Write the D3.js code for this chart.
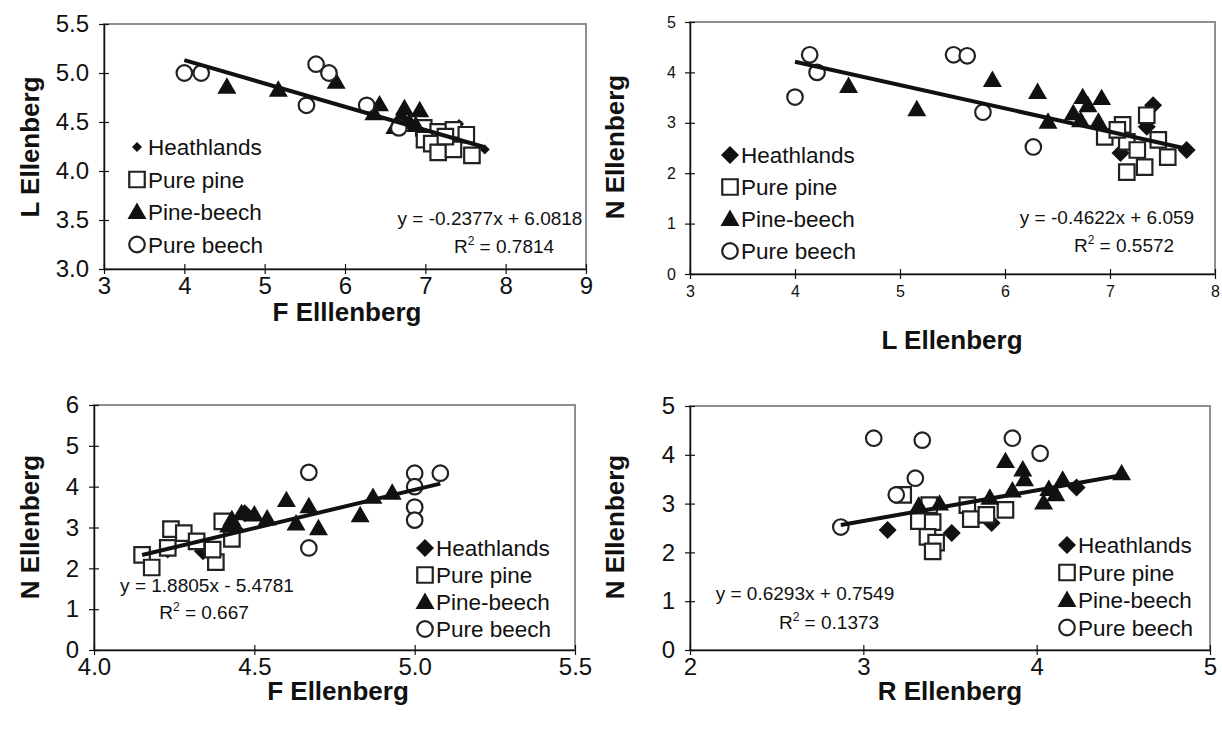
<!DOCTYPE html>
<html lang="en">
<head>
<meta charset="UTF-8">
<title>Ellenberg indicator values</title>
<script src="https://d3js.org/d3.v7.min.js"></script>
<style>
  body { margin: 0; background: #fff; }
  text { font-family: "Liberation Sans", Arial, sans-serif; fill: #111; }
</style>
</head>
<body>
<svg width="1222" height="736"></svg>
<script>
let seriesNames = ["Heathlands", "Pure pine", "Pine-beech", "Pure beech"];

// panel A : F vs L
let aHeath = [[7.42,4.48],[7.74,4.22],[7.30,4.42]];
let aPine  = [[6.98,4.44],[7.16,4.40],[7.35,4.42],[7.51,4.37],[6.99,4.32],[7.08,4.28],[7.16,4.19],[7.35,4.22],[7.58,4.16],[7.25,4.35]];
let aMixed = [[4.53,4.86],[5.17,4.83],[5.89,4.91],[6.36,4.59],[6.43,4.68],[6.74,4.64],[6.93,4.62],[6.80,4.50],[6.88,4.47],[6.62,4.45],[6.70,4.56]];
let aBeech = [[4.00,5.00],[4.21,5.00],[5.52,4.67],[5.64,5.09],[5.80,5.00],[6.27,4.67],[6.67,4.44]];
let aFit = [-0.2377, 6.0818];

// panel B : L vs N
let bHeath = [[7.41,3.35],[7.73,2.46],[7.10,2.40],[7.35,2.92]];
let bPine  = [[7.35,3.15],[7.12,2.96],[6.95,2.72],[7.16,2.62],[7.46,2.66],[7.26,2.46],[7.55,2.32],[7.33,2.12],[7.16,2.02],[7.07,2.86]];
let bMixed = [[4.51,3.73],[5.16,3.27],[5.88,3.85],[6.31,3.61],[6.74,3.51],[6.92,3.49],[6.79,3.35],[6.41,3.02],[6.65,3.19],[6.72,3.05],[6.89,3.02]];
let bBeech = [[4.00,3.51],[4.14,4.35],[4.21,4.00],[5.51,4.35],[5.64,4.33],[5.79,3.21],[6.27,2.52]];
let bFit = [-0.4622, 6.059];

// panel C : F vs N
let cHeath = [[4.23,2.46],[4.34,2.42],[4.47,3.35],[4.44,2.95]];
let cPine  = [[4.15,2.33],[4.18,2.02],[4.24,2.96],[4.28,2.86],[4.23,2.50],[4.32,2.66],[4.38,2.15],[4.37,2.46],[4.40,3.15],[4.43,2.72]];
let cMixed = [[4.60,3.67],[4.67,3.52],[4.63,3.10],[4.70,2.98],[4.46,3.35],[4.50,3.32],[4.54,3.22],[4.43,3.20],[4.87,3.75],[4.93,3.85],[4.83,3.30],[4.42,3.05]];
let cBeech = [[5.00,4.33],[5.00,4.00],[5.08,4.33],[5.00,3.50],[5.00,3.18],[4.67,4.35],[4.67,2.50]];
let cFit = [1.8805, -5.4781];

// panel D : R vs N
let dHeath = [[4.23,3.33],[3.14,2.46],[3.51,2.40],[3.74,2.60]];
let dPine  = [[3.23,3.18],[3.38,2.97],[3.32,2.64],[3.40,2.62],[3.60,2.97],[3.62,2.68],[3.71,2.77],[3.82,2.87],[3.37,2.32],[3.42,2.20],[3.40,2.02]];
let dMixed = [[3.82,3.87],[3.92,3.70],[3.93,3.50],[4.49,3.62],[4.15,3.49],[4.07,3.30],[3.86,3.27],[4.04,3.02],[4.11,3.19],[3.73,3.12],[3.44,3.00],[3.32,2.96]];
let dBeech = [[3.06,4.34],[3.34,4.30],[3.86,4.34],[3.30,3.52],[3.19,3.18],[2.87,2.52],[4.02,4.03]];
let dFit = [0.6293, 0.7549];

let ticksA = {x: [3,4,5,6,7,8,9], y: [3,3.5,4,4.5,5,5.5]};
let ticksB = {x: [3,4,5,6,7,8], y: [0,1,2,3,4,5]};
let ticksC = {x: [4,4.5,5,5.5], y: [0,1,2,3,4,5,6]};
let ticksD = {x: [2,3,4,5], y: [0,1,2,3,4,5]};

let panels = [
  {box: [104,586,24,269], xDom: [3,9], yDom: [3,5.5], ticks: ticksA, xFmt: "d", yFmt: ".1f", tickFont: 24,
   series: [aHeath,aPine,aMixed,aBeech], fit: aFit,
   xTitle: "F Elllenberg", yTitle: "L Ellenberg", xTitlePos: [347,321], yTitlePos: [39,147],
   legend: [137,147,32.5], smallDiamond: true,
   eq: ["y = -0.2377x + 6.0818", "0.7814"], eqPos: [[490,225],[504,253]]},
  {box: [690,1215,22,274], xDom: [3,8], yDom: [0,5], ticks: ticksB, xFmt: "d", yFmt: "d", tickFont: 16,
   series: [bHeath,bPine,bMixed,bBeech], fit: bFit,
   xTitle: "L Ellenberg", yTitle: "N Ellenberg", xTitlePos: [952,349], yTitlePos: [624,147],
   legend: [730,155,32],
   eq: ["y = -0.4622x + 6.059", "0.5572"], eqPos: [[1107,224],[1124,252]]},
  {box: [94,575,405,650], xDom: [4,5.5], yDom: [0,6], ticks: ticksC, xFmt: ".1f", yFmt: "d", tickFont: 24,
   series: [cHeath,cPine,cMixed,cBeech], fit: cFit,
   xTitle: "F Ellenberg", yTitle: "N Ellenberg", xTitlePos: [338,700], yTitlePos: [39,527],
   legend: [425,548,27],
   eq: ["y = 1.8805x - 5.4781", "0.667"], eqPos: [[207,592],[204,619]]},
  {box: [690,1210,406,650], xDom: [2,5], yDom: [0,5], ticks: ticksD, xFmt: "d", yFmt: "d", tickFont: 24,
   series: [dHeath,dPine,dMixed,dBeech], fit: dFit,
   xTitle: "R Ellenberg", yTitle: "N Ellenberg", xTitlePos: [950,700], yTitlePos: [624,527],
   legend: [1067,545,27.5],
   eq: ["y = 0.6293x + 0.7549", "0.1373"], eqPos: [[805,600],[829,629]]}
];

let svg = d3.select("svg");

let diamond = s => `M0,${-s}L${s},0L0,${s}L${-s},0Z`;
let triangle = d3.symbol().type(d3.symbolTriangle).size(156)();
let square = d3.symbol().type(d3.symbolSquare).size(240)();
let circle = d3.symbol().type(d3.symbolCircle).size(190)();

function drawMarker(g, i, x, y, small) {
  let p = g.append("path").attr("transform", `translate(${x},${y})`);
  if (i == 0) p.attr("d", diamond(small ? 5 : 9)).attr("fill", "#111");
  else if (i == 1) p.attr("d", square).attr("fill", "#fff").attr("stroke", "#222").attr("stroke-width", 2.2);
  else if (i == 2) p.attr("d", triangle).attr("transform", `translate(${x},${y + 1.5})`).attr("fill", "#111");
  else p.attr("d", circle).attr("fill", "#fff").attr("stroke", "#222").attr("stroke-width", 2.2);
}

panels.forEach(p => {
  let [l, r, t, b] = p.box;
  let x = d3.scaleLinear().domain(p.xDom).range([l, r]);
  let y = d3.scaleLinear().domain(p.yDom).range([b, t]);
  let g = svg.append("g");

  // plot area frame
  g.append("rect").attr("x", l).attr("y", t).attr("width", r - l).attr("height", b - t)
    .attr("fill", "none").attr("stroke", "#8a9096").attr("stroke-width", 2);

  let big = p.tickFont > 18;
  let xAxis = g.append("g").attr("transform", `translate(0,${b})`)
    .call(d3.axisBottom(x).tickValues(p.ticks.x).tickFormat(d3.format(p.xFmt)).tickSize(5).tickSizeOuter(0).tickPadding(big ? 3 : 7));
  xAxis.selectAll(".tick line").attr("y1", -5);
  let yAxis = g.append("g").attr("transform", `translate(${l},0)`)
    .call(d3.axisLeft(y).tickValues(p.ticks.y).tickFormat(d3.format(p.yFmt)).tickSize(5).tickSizeOuter(0).tickPadding(big ? 10 : 9));
  yAxis.selectAll(".tick line").attr("x1", 5);
  [xAxis, yAxis].forEach(a => {
    a.selectAll("path.domain").attr("stroke", "#111").attr("stroke-width", 1.5);
    a.selectAll(".tick line").attr("stroke", "#111").attr("stroke-width", 1.2);
    a.selectAll(".tick text").attr("font-size", p.tickFont).attr("font-family", "Liberation Sans, Arial, sans-serif").attr("fill", "#111");
  });

  // points, series in legend order
  p.series.forEach((s, i) => {
    s.forEach(d => drawMarker(g, i, x(d[0]), y(d[1]), p.smallDiamond));
  });

  // trendline over the x range of the data
  let ext = d3.extent(p.series.flat(), d => d[0]);
  g.append("line")
    .attr("x1", x(ext[0])).attr("y1", y(p.fit[0] * ext[0] + p.fit[1]))
    .attr("x2", x(ext[1])).attr("y2", y(p.fit[0] * ext[1] + p.fit[1]))
    .attr("stroke", "#111").attr("stroke-width", 4);

  // legend
  let [lx, ly, ls] = p.legend;
  seriesNames.forEach((n, i) => {
    drawMarker(g, i, lx, ly + i * ls, p.smallDiamond);
    g.append("text").attr("x", lx + 11).attr("y", ly + i * ls + 8).attr("font-size", 22.5).text(n);
  });

  // equation
  g.append("text").attr("x", p.eqPos[0][0]).attr("y", p.eqPos[0][1]).attr("font-size", 19)
    .attr("text-anchor", "middle").text(p.eq[0]);
  let r2 = g.append("text").attr("x", p.eqPos[1][0]).attr("y", p.eqPos[1][1]).attr("font-size", 19)
    .attr("text-anchor", "middle");
  r2.append("tspan").text("R");
  r2.append("tspan").attr("dy", -8).attr("font-size", 12).text("2");
  r2.append("tspan").attr("dy", 8).text(" = " + p.eq[1]);

  // axis titles
  g.append("text").attr("x", p.xTitlePos[0]).attr("y", p.xTitlePos[1]).attr("text-anchor", "middle")
    .attr("font-size", 26).attr("font-weight", "bold").text(p.xTitle);
  g.append("text").attr("transform", `translate(${p.yTitlePos[0]},${p.yTitlePos[1]}) rotate(-90)`)
    .attr("text-anchor", "middle").attr("font-size", 26).attr("font-weight", "bold").text(p.yTitle);
});
</script>
</body>
</html>
